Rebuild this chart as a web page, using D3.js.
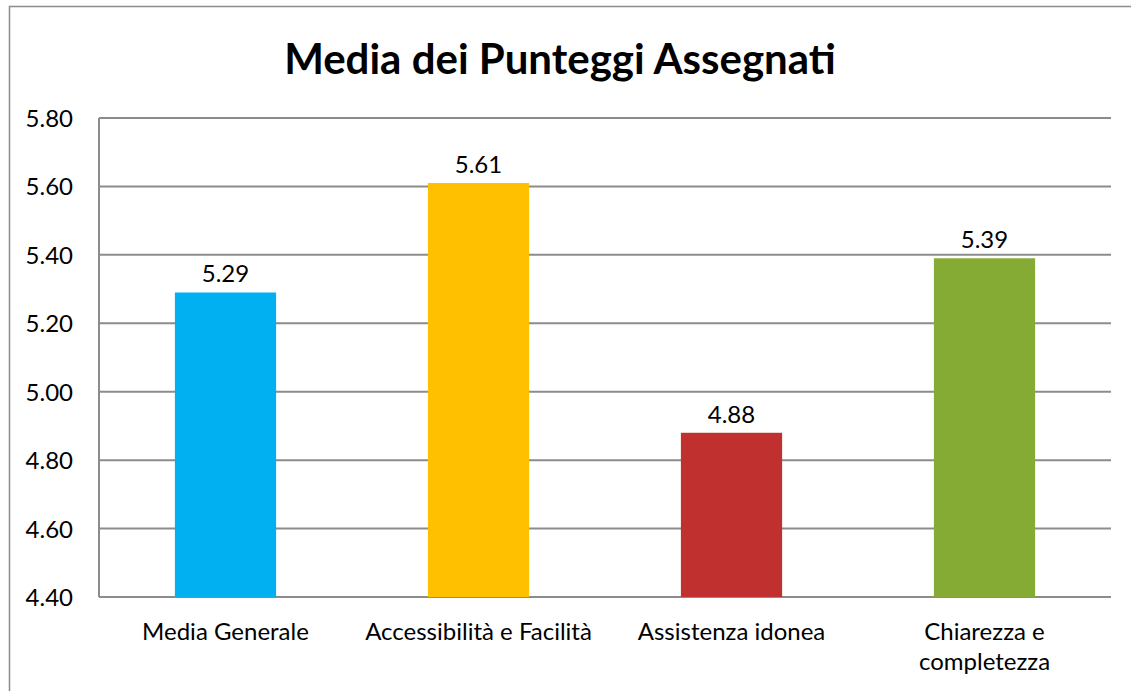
<!DOCTYPE html>
<html>
<head>
<meta charset="utf-8">
<script src="https://cdn.jsdelivr.net/npm/d3@7"></script>
<style>
  body { margin: 0; background: #fff; }
  svg text { font-family: Lato, "Noto Sans", sans-serif; fill: #000; }
</style>
</head>
<body>
<div id="chart"></div>
<script>
const categories = [["Media Generale"], ["Accessibilità e Facilità"], ["Assistenza idonea"], ["Chiarezza e", "completezza"]];
const values = [5.29, 5.61, 4.88, 5.39];
const colours = ["#00B0F0", "#FFC000", "#C0302F", "#85AB35"];
const yTicks = [4.40, 4.60, 4.80, 5.00, 5.20, 5.40, 5.60, 5.80];

const width = 1131, height = 691;
const plot = {left: 99, right: 1111, top: 118, bottom: 597};

const svg = d3.select("#chart").append("svg")
    .attr("width", width)
    .attr("height", height);

// outer chart frame
svg.append("rect")
    .attr("x", 9.5).attr("y", 6.5)
    .attr("width", 1140).attr("height", 700)
    .attr("fill", "none")
    .attr("stroke", "#8c8c8c")
    .attr("stroke-width", 1.5);

svg.append("text")
    .attr("x", 560).attr("y", 74)
    .attr("text-anchor", "middle")
    .style("font-size", "42px")
    .style("font-weight", "bold")
    .text("Media dei Punteggi Assegnati");

const x = d3.scaleBand()
    .domain(categories.map((c, i) => i))
    .range([plot.left, plot.right])
    .paddingInner(0.6)
    .paddingOuter(0.3);

const y = d3.scaleLinear()
    .domain([4.4, 5.8])
    .range([plot.bottom, plot.top]);

// gridlines
svg.append("g").selectAll("line")
    .data(yTicks)
    .join("line")
    .attr("x1", plot.left).attr("x2", plot.right)
    .attr("y1", d => y(d)).attr("y2", d => y(d))
    .attr("stroke", "#8c8c8c")
    .attr("stroke-width", 2);

// y axis line
svg.append("line")
    .attr("x1", plot.left).attr("x2", plot.left)
    .attr("y1", plot.top).attr("y2", plot.bottom)
    .attr("stroke", "#8c8c8c")
    .attr("stroke-width", 2);

svg.append("g").selectAll("text")
    .data(yTicks)
    .join("text")
    .attr("x", 73)
    .attr("y", d => y(d) + 9)
    .attr("text-anchor", "end")
    .style("font-size", "24px")
    .text(d => d.toFixed(2));

svg.append("g").selectAll("rect")
    .data(values)
    .join("rect")
    .attr("x", (d, i) => x(i))
    .attr("width", x.bandwidth())
    .attr("y", d => y(d))
    .attr("height", d => plot.bottom - y(d))
    .attr("fill", (d, i) => colours[i]);

svg.append("g").selectAll("text")
    .data(values)
    .join("text")
    .attr("x", (d, i) => x(i) + x.bandwidth() / 2)
    .attr("y", d => y(d) - 10)
    .attr("text-anchor", "middle")
    .style("font-size", "24px")
    .text(d => d.toFixed(2));

const labels = svg.append("g").selectAll("text")
    .data(categories)
    .join("text")
    .attr("x", (d, i) => x(i) + x.bandwidth() / 2)
    .attr("y", 640)
    .attr("text-anchor", "middle")
    .style("font-size", "24px");

labels.selectAll("tspan")
    .data(d => d)
    .join("tspan")
    .attr("x", function() { return d3.select(this.parentNode).attr("x"); })
    .attr("dy", (d, i) => i === 0 ? 0 : 30)
    .text(d => d);
</script>
</body>
</html>
